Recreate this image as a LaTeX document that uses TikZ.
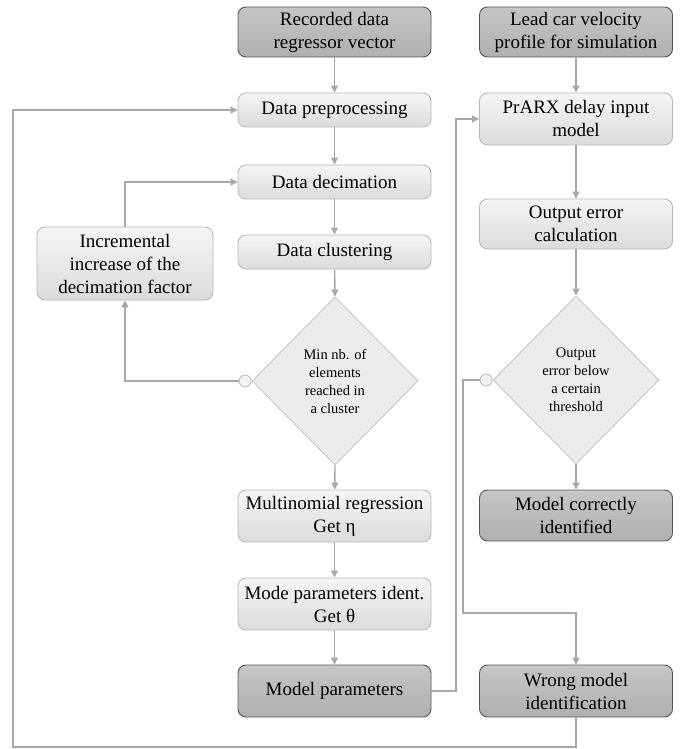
\documentclass[tikz,border=0pt]{standalone}
\usepackage{fontspec}
\setmainfont{Liberation Serif}
\usetikzlibrary{shapes.geometric,arrows.meta}
\definecolor{linec}{HTML}{A8A8A8}
\definecolor{lightb}{HTML}{B8B8B8}
\definecolor{darkb}{HTML}{555555}
\tikzset{
  lbox/.style={draw=lightb, line width=0.9pt, rounded corners=8pt, top color=white!70!gray!25, bottom color=gray!28,
    minimum width=193pt, align=center, font=\fontsize{19}{23}\selectfont\rmfamily, inner sep=2pt},
  dbox/.style={draw=darkb, line width=0.9pt, rounded corners=8pt, top color=gray!45, bottom color=gray!62,
    minimum width=193pt, align=center, font=\fontsize{19}{23}\selectfont\rmfamily, inner sep=2pt},
  dec/.style={diamond, draw=gray!45, line width=0.9pt, fill=gray!15, minimum width=166pt, minimum height=168pt,
    inner sep=0pt, align=center, font=\fontsize{14.5}{18}\selectfont\rmfamily},
  conn/.style={circle, draw=gray!50, line width=0.9pt, fill=gray!10, minimum size=12pt, inner sep=0pt},
  link/.style={draw=linec, line width=1.4pt},
  arr/.style={link, -{Triangle[width=7pt,length=7pt]}},
}
\begin{document}
\begin{tikzpicture}[x=1pt,y=-1pt]
\useasboundingbox (0,0) rectangle (680,749);
% left column
\node[dbox, minimum height=50pt] (rec) at (334.5,32) {Recorded data\\regressor vector};
\node[lbox, minimum height=34pt] (pre) at (334.5,110) {Data preprocessing};
\node[lbox, minimum height=34pt] (dcm) at (334.5,182) {Data decimation};
\node[lbox, minimum height=34pt] (clu) at (334.5,252) {Data clustering};
\node[dec] (d1) at (335,381) {Min nb. of\\elements\\reached in\\a cluster};
\node[conn, anchor=east] (c1) at (d1.west) {};
\node[lbox, minimum height=52pt] (mult) at (334.5,516) {Multinomial regression\\Get η};
\node[lbox, minimum height=52pt] (mode) at (334.5,604) {Mode parameters ident.\\Get θ};
\node[dbox, minimum height=52pt] (mpar) at (334.5,691) {Model parameters};
\node[lbox, minimum width=176pt, minimum height=73pt] (inc) at (125,263.5) {Incremental\\increase of the\\decimation factor};
% right column
\node[dbox, minimum height=50pt] (lead) at (576,32) {Lead car velocity\\profile for simulation};
\node[lbox, minimum height=52pt] (prx) at (576,119) {PrARX delay input\\model};
\node[lbox, minimum height=50pt] (oec) at (576,224) {Output error\\calculation};
\node[dec] (d2) at (576,380) {Output\\error below\\a certain\\threshold};
\node[conn, anchor=east] (c2) at (d2.west) {};
\node[dbox, minimum height=51pt] (mci) at (576,515.5) {Model correctly\\identified};
\node[dbox, minimum height=52pt] (wmi) at (576,691) {Wrong model\\identification};
% coordinates
\coordinate (p1) at (125,381);
\coordinate (p2) at (125,182);
\coordinate (p3) at (456,691);
\coordinate (p4) at (456,119);
\coordinate (q1) at (463,380);
\coordinate (q2) at (463,613);
\coordinate (q3) at (576,613);
\coordinate (r1) at (576,747);
\coordinate (r2) at (13,747);
\coordinate (r3) at (13,110);
% connectors
\draw[arr] (rec) -- (pre);
\draw[arr] (pre) -- (dcm);
\draw[arr] (dcm) -- (clu);
\draw[arr] (clu) -- (d1.north);
\draw[arr] (d1.south) -- (mult);
\draw[arr] (mult) -- (mode);
\draw[arr] (mode) -- (mpar);
\draw[arr] (c1.west) -- (p1) -- (inc.south);
\draw[arr] (inc.north) -- (p2) -- (dcm.west);
\draw[arr] (mpar.east) -- (p3) -- (p4) -- (prx.west);
\draw[arr] (lead) -- (prx);
\draw[arr] (prx) -- (oec);
\draw[arr] (oec) -- (d2.north);
\draw[arr] (d2.south) -- (mci);
\draw[arr] (c2.west) -- (q1) -- (q2) -- (q3) -- (wmi.north);
\draw[arr] (wmi.south) -- (r1) -- (r2) -- (r3) -- (pre.west);
\end{tikzpicture}
\end{document}
